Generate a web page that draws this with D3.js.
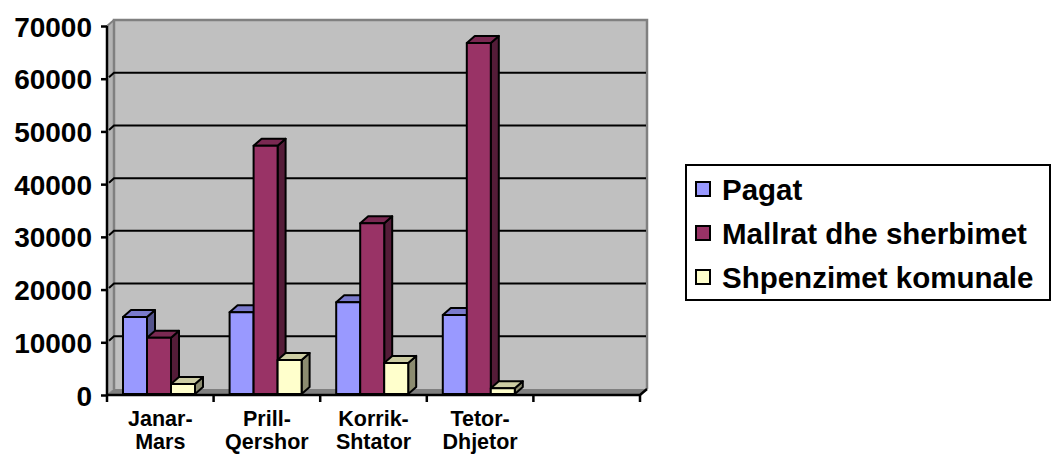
<!DOCTYPE html>
<html>
<head>
<meta charset="utf-8">
<script src="https://cdn.jsdelivr.net/npm/d3@7"></script>
<style>
  html, body { margin: 0; padding: 0; background: #fff; }
  svg { display: block; }
  text { font-family: "Liberation Sans", Arial, sans-serif; font-weight: bold; fill: #000; }
</style>
</head>
<body>
<svg id="chart" width="1052" height="456"></svg>
<script>
// ---- data ----
const categories = ["Janar-\nMars", "Prill-\nQershor", "Korrik-\nShtator", "Tetor-\nDhjetor", ""];
const seriesNames = ["Pagat", "Mallrat dhe sherbimet", "Shpenzimet komunale"];
const pagat = [14600, 15500, 17400, 15000];
const mallrat = [10650, 47100, 32400, 66600];
const shpenzimet = [1900, 6450, 5900, 1100];
const yTicks = [0, 10000, 20000, 30000, 40000, 50000, 60000, 70000];
const seriesColors = ["#9999FF", "#993366", "#FFFFCC"];

const seriesValues = [pagat, mallrat, shpenzimet];

const svg = d3.select("#chart");

// ---- layout ----
const plotLeft = 107, plotRight = 640, plotBottom = 395, plotTop = 26;
const depthX = 7, depthY = -6;      // wall depth offset
const barDX = 8, barDY = -7;        // bar depth offset

const x = d3.scaleBand().domain(categories).range([plotLeft, plotRight]).paddingInner(0).paddingOuter(0);
const yFront = d3.scaleLinear().domain([0, 70000]).range([plotBottom, plotTop]);
const yBack = v => yFront(v) + depthY;
const yBar = d3.scaleLinear().domain([0, 70000]).range([plotBottom - 1, plotTop - 1]);
const xInner = d3.scaleBand().domain(seriesNames).range([16, 88]).padding(0);

const g = svg.append("g");

// left wall
g.append("polygon")
  .attr("points", [[plotLeft, plotBottom], [plotLeft, plotTop], [plotLeft + depthX, plotTop + depthY], [plotLeft + depthX, plotBottom + depthY]].map(p => p.join(",")).join(" "))
  .attr("fill", "#b4b4b4").attr("stroke", "#808080").attr("stroke-width", 1);

// back wall
g.append("rect")
  .attr("x", plotLeft + depthX).attr("y", yBack(70000))
  .attr("width", (plotRight + depthX) - (plotLeft + depthX))
  .attr("height", yBack(0) - yBack(70000))
  .attr("fill", "#C0C0C0");
g.append("path")
  .attr("d", `M${plotLeft + depthX},${yBack(0)} V${yBack(70000)} H${plotRight + depthX} V${yBack(0)}`)
  .attr("fill", "none").attr("stroke", "#808080").attr("stroke-width", 2.5);

// floor
g.append("polygon")
  .attr("points", [[plotLeft, plotBottom], [plotLeft + depthX, plotBottom + depthY], [plotRight + depthX, plotBottom + depthY], [plotRight, plotBottom]].map(p => p.join(",")).join(" "))
  .attr("fill", "#808080");

// gridlines
g.selectAll("path.grid").data(yTicks.filter(v => v > 0 && v < 70000)).enter().append("path")
  .attr("class", "grid")
  .attr("d", v => `M${plotLeft + 2},${yFront(v) - 1.5} L${plotLeft + depthX},${yBack(v)} H${plotRight + depthX - 1}`)
  .attr("fill", "none").attr("stroke", "#000").attr("stroke-width", 2);

// top-left corner diagonal
g.append("path")
  .attr("d", `M${plotLeft},${plotTop} L${plotLeft + depthX},${plotTop + depthY}`)
  .attr("stroke", "#808080").attr("stroke-width", 2);

// bars
const shade = (c, k) => { const col = d3.rgb(c); return d3.rgb(col.r * k, col.g * k, col.b * k).formatHex(); };
const barsG = g.append("g");
categories.slice(0, 4).forEach((cat, ci) => {
  seriesNames.forEach((s, si) => {
    const v = seriesValues[si][ci];
    const x0 = x(cat) + xInner(s), w = xInner.bandwidth();
    const yT = yBar(v), yB = yBar(0);
    const c = seriesColors[si];
    const bg = barsG.append("g").attr("stroke", "#000").attr("stroke-width", 2).attr("stroke-linejoin", "round");
    // side
    bg.append("polygon")
      .attr("points", [[x0 + w, yB], [x0 + w, yT], [x0 + w + barDX, yT + barDY], [x0 + w + barDX, yB + barDY]].map(p => p.join(",")).join(" "))
      .attr("fill", shade(c, 0.55));
    // top
    bg.append("polygon")
      .attr("points", [[x0, yT], [x0 + barDX, yT + barDY], [x0 + w + barDX, yT + barDY], [x0 + w, yT]].map(p => p.join(",")).join(" "))
      .attr("fill", shade(c, 0.8));
    // front
    bg.append("rect").attr("x", x0).attr("y", yT).attr("width", w).attr("height", yB - yT).attr("fill", c);
  });
});

// x axis line + diagonal at right
g.append("path")
  .attr("d", `M${plotLeft},${plotBottom} H${plotRight} L${plotRight + depthX},${plotBottom + depthY}`)
  .attr("fill", "none").attr("stroke", "#000").attr("stroke-width", 2.5);

// x boundary ticks
const boundaries = categories.map(c => x(c)).concat([plotRight]);
g.selectAll("line.xtick").data(boundaries).enter().append("line")
  .attr("x1", d => d).attr("x2", d => d).attr("y1", plotBottom).attr("y2", plotBottom + 7)
  .attr("stroke", "#000").attr("stroke-width", 2.5);

// x labels
const xAxis = g.append("g").attr("transform", `translate(0,${plotBottom})`)
  .call(d3.axisBottom(x).tickSize(0).tickFormat(""));
xAxis.select(".domain").remove();
xAxis.selectAll(".tick").each(function(d) {
  const t = d3.select(this).select("text").text(null)
    .attr("y", 0).attr("dy", 0)
    .style("font-size", "21.5px").style("font-family", "'Liberation Sans', Arial, sans-serif").style("font-weight", "bold").attr("fill", "#000");
  d.split("\n").forEach((line, i) => {
    t.append("tspan").attr("x", 0).attr("y", 31 + i * 23).text(line);
  });
});

// y axis
const yAxis = g.append("g").attr("transform", `translate(${plotLeft},0)`)
  .call(d3.axisLeft(yFront).tickValues(yTicks).tickSize(6).tickPadding(9).tickFormat(d3.format("d")));
yAxis.select(".domain").attr("stroke", "#000").attr("stroke-width", 2.5).attr("d", `M0,${plotBottom} V${plotTop}`);
yAxis.selectAll(".tick line").attr("stroke", "#000").attr("stroke-width", 2.5);
yAxis.selectAll(".tick text")
  .style("font-size", "28px").style("font-family", "'Liberation Sans', Arial, sans-serif").style("font-weight", "bold").attr("fill", "#000").attr("dy", "0.36em");

// legend
const legend = svg.append("g");
legend.append("rect").attr("x", 686).attr("y", 165).attr("width", 364).attr("height", 135)
  .attr("fill", "#fff").attr("stroke", "#000").attr("stroke-width", 2);
const ly = d3.scalePoint().domain(seriesNames).range([189, 277]);
const items = legend.selectAll("g.item").data(seriesNames).enter().append("g").attr("class", "item");
items.append("rect").attr("x", 696).attr("y", d => ly(d) - 7).attr("width", 14).attr("height", 14)
  .attr("fill", (d, i) => seriesColors[i]).attr("stroke", "#000").attr("stroke-width", 2);
items.append("text").attr("x", 722).attr("y", d => ly(d)).attr("dy", "0.36em")
  .style("font-size", "29.5px").text(d => d);
</script>
</body>
</html>
